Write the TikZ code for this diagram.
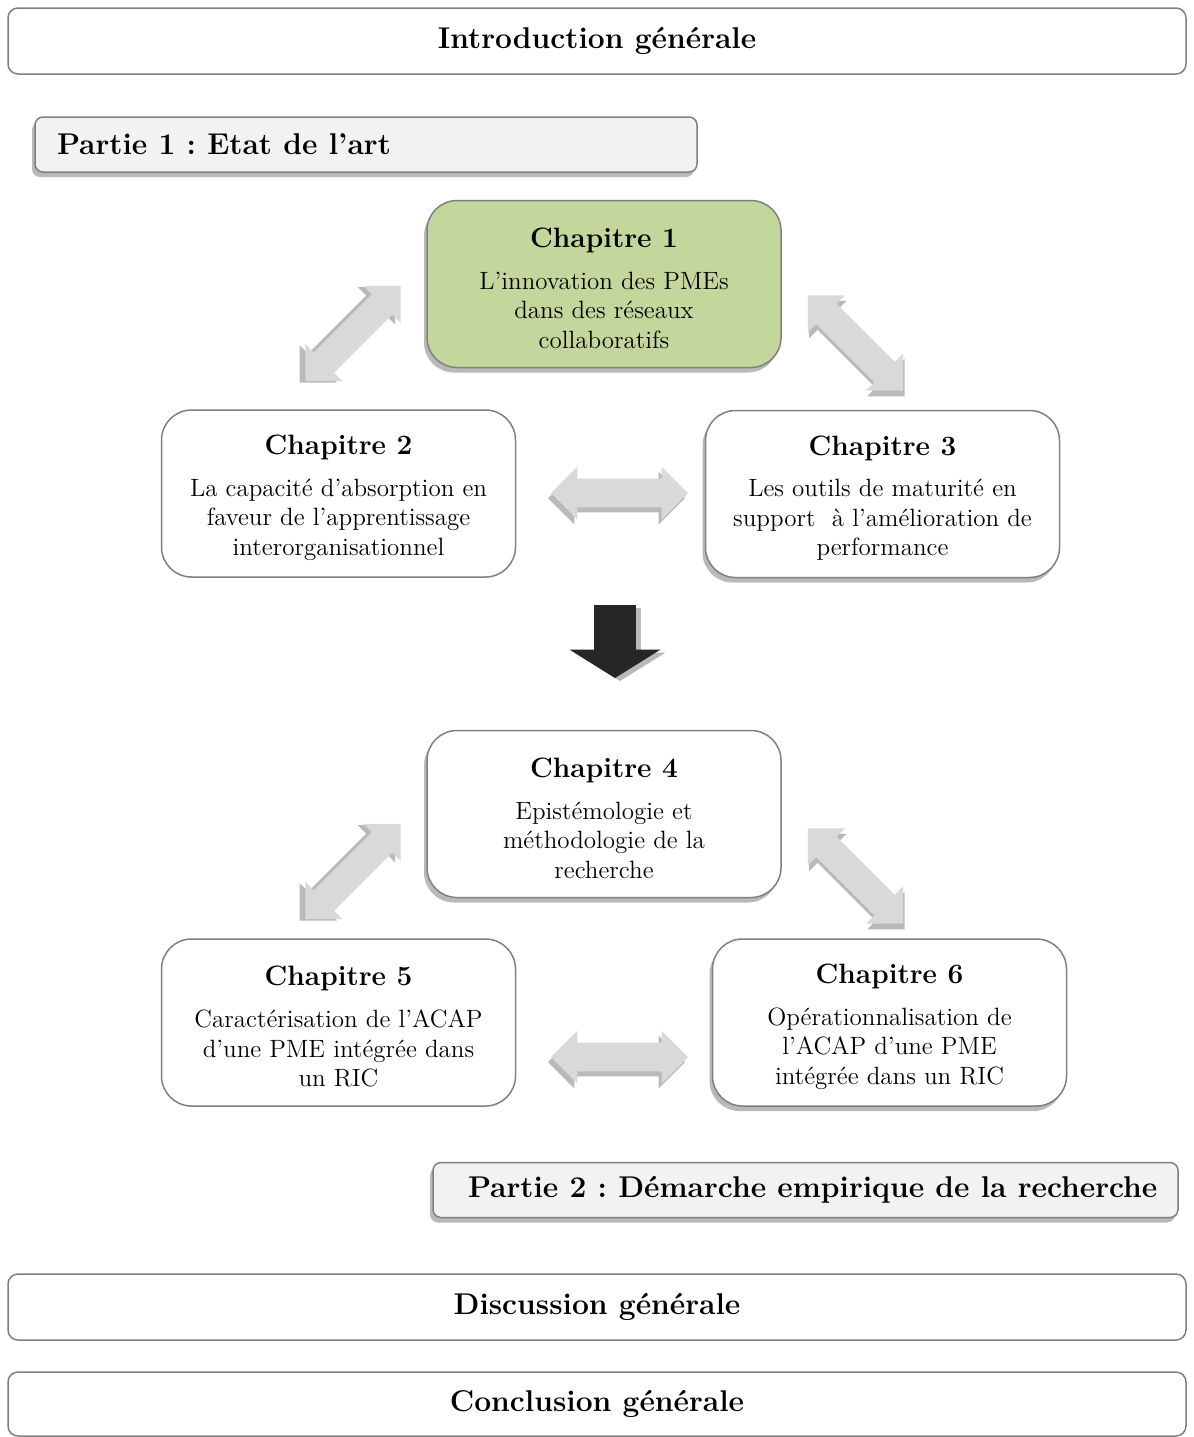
\documentclass[tikz,border=0pt]{standalone}
\usepackage{fontspec}
\usetikzlibrary{shapes.arrows,shadows}
\frenchspacing
\definecolor{boxline}{RGB}{128,128,128}
\definecolor{chapgreen}{RGB}{195,214,155}
\definecolor{partfill}{RGB}{242,242,242}
\definecolor{arrowgray}{RGB}{217,217,217}
\definecolor{shadowgray}{RGB}{185,185,185}
\definecolor{darkarrow}{RGB}{38,38,38}
\tikzset{
  boxshadow/.style={drop shadow={shadow xshift=-1.5pt,shadow yshift=-2.5pt,fill=shadowgray,opacity=1}},
  bandbox/.style={draw=boxline,line width=0.75pt,rounded corners=5pt,fill=white,
    minimum width=589pt,minimum height=33pt,font=\fontsize{15}{18}\selectfont\bfseries},
  partbox/.style={draw=boxline,line width=0.75pt,rounded corners=4pt,fill=partfill,
    minimum height=27.5pt,font=\fontsize{15}{18}\selectfont\bfseries,boxshadow},
  chapbox/.style={draw=boxline,line width=0.75pt,rounded corners=15pt,fill=white,inner ysep=0pt,
    minimum width=177pt,minimum height=83.5pt,align=center,font=\fontsize{12.5}{14.8}\selectfont},
  linkarrow/.style={double arrow,fill=arrowgray,inner xsep=0pt,inner ysep=7pt,minimum height=67.5pt,
    double arrow head extend=6pt},
  downarrow/.style={single arrow,fill=darkarrow,inner xsep=0pt,inner ysep=10.25pt,minimum height=36.5pt,
    single arrow head extend=12.25pt,single arrow tip angle=116,rotate=-90,
    drop shadow={shadow xshift=2.5pt,shadow yshift=-1.5pt,fill=shadowgray,opacity=1}}
}
\newcommand{\chaptitle}[1]{{\fontsize{14}{16}\selectfont\bfseries\rule{0pt}{14pt}#1}\\[6pt]}
\begin{document}
\begin{tikzpicture}[x=0.5pt,y=-0.5pt]
  \useasboundingbox (0,0) rectangle (1194,1437);

  % bandes du haut et du bas
  \node[bandbox] (intro) at (597,41) {Introduction générale};
  \node[bandbox] (disc) at (597,1307) {Discussion générale};
  \node[bandbox,minimum height=32pt] (concl) at (597,1404) {Conclusion générale};

  % parties
  \node[partbox,minimum width=331pt,inner xsep=11pt] (part1) at (366,144.5)
    {\makebox[309pt][l]{Partie 1 : Etat de l'art}};
  \node[partbox,minimum width=372.5pt,inner xsep=17.5pt] (part2) at (805.5,1190)
    {\makebox[337.5pt][l]{Partie 2 : Démarche empirique de la recherche}};

  % partie 1
  \node[chapbox,fill=chapgreen,boxshadow] (ch1) at (604,284)
    {\chaptitle{Chapitre 1}L'innovation des PMEs\\dans des réseaux\\collaboratifs};
  \node[chapbox] (ch2) at (338.5,493.5)
    {\chaptitle{Chapitre 2}La capacité d'absorption en\\faveur de l'apprentissage\\interorganisationnel};
  \node[chapbox,boxshadow] (ch3) at (882.5,494)
    {\chaptitle{Chapitre 3}Les outils de maturité en\\support \ à l'amélioration de\\performance};

  \node[linkarrow,rotate=45,
    drop shadow={shadow xshift=-2.8pt,shadow yshift=-0.7pt,fill=shadowgray,opacity=1}] (l12) at (353,333.5) {};
  \node[linkarrow,rotate=-45,
    drop shadow={shadow xshift=0.7pt,shadow yshift=-2.8pt,fill=shadowgray,opacity=1}] (l13) at (855.5,343) {};
  \node[linkarrow,minimum height=68.5pt,boxshadow] (l23) at (619.5,493) {};

  \node[downarrow] (down) at (615,635) {};

  % partie 2
  \node[chapbox,boxshadow] (ch4) at (604,814)
    {\chaptitle{Chapitre 4}Epistémologie et\\méthodologie de la\\recherche};
  \node[chapbox] (ch5) at (338.5,1022.5)
    {\chaptitle{Chapitre 5}Caractérisation de l'ACAP\\d'une PME intégrée dans\\un RIC};
  \node[chapbox,boxshadow] (ch6) at (889.5,1022.5)
    {\chaptitle{Chapitre 6}Opérationnalisation de\\l'ACAP d'une PME\\intégrée dans un RIC};

  \node[linkarrow,rotate=45,
    drop shadow={shadow xshift=-2.8pt,shadow yshift=-0.7pt,fill=shadowgray,opacity=1}] (l45) at (353,871.5) {};
  \node[linkarrow,rotate=-45,
    drop shadow={shadow xshift=0.7pt,shadow yshift=-2.8pt,fill=shadowgray,opacity=1}] (l46) at (855.5,876) {};
  \node[linkarrow,minimum height=68.5pt,boxshadow] (l56) at (619.5,1057) {};
\end{tikzpicture}
\end{document}
